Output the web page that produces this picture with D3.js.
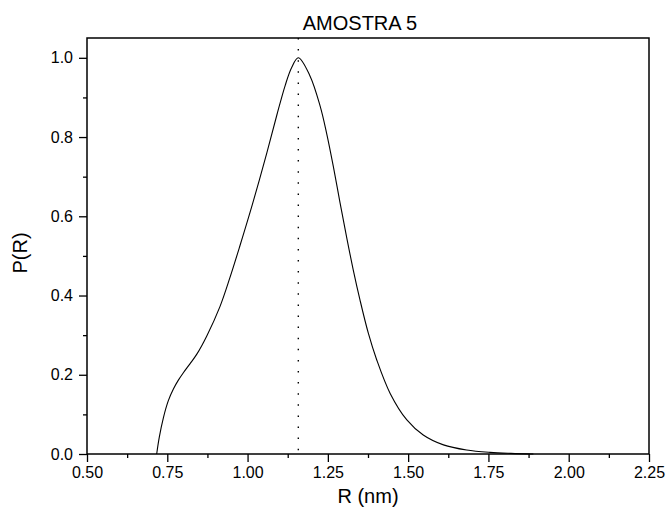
<!DOCTYPE html>
<html>
<head>
<meta charset="utf-8">
<script src="https://cdn.jsdelivr.net/npm/d3@7"></script>
<style>
  body { margin: 0; background: #fff; }
  svg text { font-family: "Liberation Sans", Arial, sans-serif; fill: #000; }
</style>
</head>
<body>
<svg id="chart"></svg>
<script>
// values
var radius = [0.717, 0.725, 0.738, 0.753, 0.769, 0.785, 0.800, 0.820, 0.842, 0.873, 0.914, 0.945, 0.976, 1.015, 1.060, 1.091, 1.117, 1.137, 1.158, 1.194, 1.226, 1.246, 1.267, 1.288, 1.309, 1.329, 1.350, 1.376, 1.402, 1.444, 1.496, 1.547, 1.610, 1.682, 1.755, 1.82, 1.89];
var prob = [0, 0.042, 0.092, 0.134, 0.164, 0.187, 0.205, 0.227, 0.252, 0.298, 0.372, 0.445, 0.525, 0.630, 0.760, 0.855, 0.930, 0.975, 1.0, 0.955, 0.878, 0.810, 0.726, 0.634, 0.545, 0.465, 0.389, 0.305, 0.238, 0.153, 0.086, 0.048, 0.023, 0.010, 0.004, 0.0015, 0];
var peakR = 1.158;
var xTicks = [0.50, 0.75, 1.00, 1.25, 1.50, 1.75, 2.00, 2.25];
var yTicks = [0.0, 0.2, 0.4, 0.6, 0.8, 1.0];
var titleText = "AMOSTRA 5";
var xLabel = "R (nm)";
var yLabel = "P(R)";

var width = 671, height = 518;
var margin = {top: 38, right: 22, bottom: 64, left: 87};
var w = width - margin.left - margin.right;
var h = height - margin.top - margin.bottom;

var svg = d3.select("#chart").attr("width", width).attr("height", height);
var g = svg.append("g").attr("transform", "translate(" + margin.left + "," + margin.top + ")");

var x = d3.scaleLinear().domain([0.5, 2.25]).range([0, w]);
var y = d3.scaleLinear().domain([0, 1.05]).range([h, 0]);

// minor ticks
var xMinor = d3.range(0.625, 2.25, 0.25);
var yMinor = d3.range(0.1, 1.05, 0.2);

g.append("g").attr("transform", "translate(0," + h + ")")
  .call(d3.axisBottom(x).tickValues(xMinor).tickSize(4).tickFormat(""))
  .call(function (s) { s.select(".domain").remove(); s.selectAll("line").attr("stroke-width", 1.3); });
g.append("g")
  .call(d3.axisLeft(y).tickValues(yMinor).tickSize(4).tickFormat(""))
  .call(function (s) { s.select(".domain").remove(); s.selectAll("line").attr("stroke-width", 1.3); });

var xAxis = g.append("g").attr("transform", "translate(0," + h + ")")
  .call(d3.axisBottom(x).tickValues(xTicks).tickSize(8).tickPadding(5).tickFormat(d3.format(".2f")));
var yAxis = g.append("g")
  .call(d3.axisLeft(y).tickValues(yTicks).tickSize(8).tickPadding(6).tickFormat(d3.format(".1f")));

[xAxis, yAxis].forEach(function (a) {
  a.select(".domain").remove();
  a.selectAll("line").attr("stroke-width", 1.3);
  a.attr("font-size", null).attr("font-family", null);
  a.selectAll("text").style("font-size", "16px");
});

// frame
g.append("rect").attr("x", 0).attr("y", 0).attr("width", w).attr("height", h)
  .attr("fill", "none").attr("stroke", "#000").attr("stroke-width", 1.5);

// dotted line at the peak
g.append("line")
  .attr("x1", x(peakR)).attr("x2", x(peakR))
  .attr("y1", 0).attr("y2", h)
  .attr("stroke", "#000").attr("stroke-width", 1.4)
  .attr("stroke-dasharray", "1.5,9.6");

var pts = radius.map(function (r, i) { return [r, prob[i]]; });
var line = d3.line()
  .x(function (d) { return x(d[0]); })
  .y(function (d) { return y(d[1]); })
  .curve(d3.curveCatmullRom.alpha(0.5));

g.append("path").datum(pts)
  .attr("d", line)
  .attr("fill", "none").attr("stroke", "#000").attr("stroke-width", 1.1);

svg.append("text").attr("x", 360).attr("y", 30)
  .attr("text-anchor", "middle").style("font-size", "20px").text(titleText);
svg.append("text").attr("x", margin.left + w / 2).attr("y", 503)
  .attr("text-anchor", "middle").style("font-size", "20px").text(xLabel);
svg.append("text")
  .attr("transform", "translate(27,253) rotate(-90)")
  .attr("text-anchor", "middle").style("font-size", "20px").text(yLabel);
</script>
</body>
</html>
